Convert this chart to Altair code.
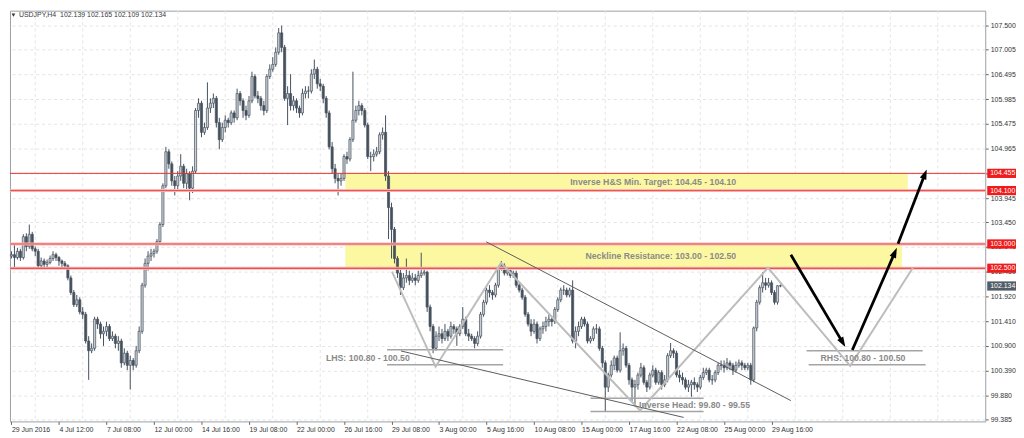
import math
import altair as alt
import pandas as pd

# ---------------- data ----------------
x_labels = ["29 Jun 2016", "4 Jul 12:00", "7 Jul 08:00", "12 Jul 00:00", "14 Jul 16:00",
            "19 Jul 08:00", "22 Jul 00:00", "26 Jul 16:00", "29 Jul 08:00", "3 Aug 00:00",
            "5 Aug 16:00", "10 Aug 08:00", "15 Aug 00:00", "17 Aug 16:00", "22 Aug 08:00",
            "25 Aug 00:00", "29 Aug 16:00"]
x_label_bars = [0, 16, 32, 48, 64, 80, 96, 112, 128, 144, 160, 176, 192, 208, 224, 240, 256]
vgrid_bars = [8, 24, 40, 56, 72, 88, 104, 120, 136, 152, 168, 184, 200, 216, 232, 248, 264,
              280, 296, 312]
price_ticks = [107.5, 107.005, 106.495, 105.985, 105.475, 104.965, 104.455, 103.945, 103.45,
               102.94, 102.43, 101.92, 101.41, 100.9, 100.39, 99.88, 99.385]

first_open = 102.75
closes = [
    102.78, 102.72, 102.85, 102.72, 103.15, 102.95, 103.20, 102.90, 102.85, 102.55,
    102.65, 102.58, 102.62, 102.70, 102.78, 102.72, 102.65, 102.60, 102.55, 102.30,
    102.00, 101.75, 101.85, 101.60, 101.55, 101.00, 100.80, 100.85, 101.45, 101.35,
    101.15, 101.20, 101.30, 101.05, 101.10, 100.95, 101.00, 100.55, 100.75, 100.50,
    100.60, 100.50, 100.80, 101.20, 102.15, 102.60, 102.75, 102.80, 102.85, 103.05,
    103.40, 104.20, 104.90, 104.65, 104.30, 104.20, 104.40, 104.60, 104.25, 104.45,
    104.15, 104.50, 105.75, 105.90, 105.30, 105.40, 105.80, 105.90, 106.00, 105.50,
    105.15, 105.40, 105.55, 105.50, 105.70, 105.60, 106.10, 105.95, 105.75, 105.65,
    105.95, 106.45, 106.05, 106.00, 105.85, 105.75, 106.45, 106.60, 106.70, 106.95,
    107.35, 107.05, 106.00, 106.10, 105.85, 105.95, 105.80, 105.70, 106.10, 106.15,
    106.15, 106.50, 106.60, 106.30, 106.25, 106.00, 105.70, 105.00, 104.55, 104.35,
    104.30, 104.35, 104.80, 104.75, 105.15, 105.55, 105.75, 105.85, 105.75, 105.45,
    104.80, 104.80, 104.85, 104.90, 105.25, 105.30, 104.40, 103.75, 103.30, 102.70,
    102.40, 102.10, 102.30, 102.35, 102.25, 102.30, 102.25, 102.35, 102.40, 102.42,
    101.70, 101.30, 100.85, 101.10, 101.15, 101.05, 101.20, 101.10, 101.30, 101.25,
    101.15, 101.30, 101.45, 101.15, 101.10, 101.05, 100.95, 101.10, 101.55, 101.80,
    102.05, 102.00, 101.95, 102.15, 102.50, 102.55, 102.40, 102.45, 102.35, 102.40,
    102.15, 102.05, 101.90, 101.55, 101.35, 101.20, 101.35, 101.05, 101.25, 101.30,
    101.40, 101.45, 101.40, 101.65, 101.85, 102.05, 102.05, 101.95, 102.05, 101.00,
    101.20, 101.30, 101.45, 101.35, 101.00, 101.05, 101.25, 101.25, 100.85, 100.55,
    100.05, 100.30, 100.50, 100.65, 100.40, 100.80, 100.85, 100.50, 100.20, 100.05,
    100.10, 100.30, 100.45, 100.15, 100.05, 100.30, 100.40, 100.15, 100.35, 100.10,
    100.20, 100.70, 100.80, 100.75, 100.30, 100.25, 100.20, 100.05, 100.10, 100.15,
    100.10, 100.05, 100.25, 100.35, 100.40, 100.20, 100.20, 100.35, 100.50, 100.50,
    100.45, 100.55, 100.50, 100.40, 100.50, 100.55, 100.50, 100.45, 100.50, 100.20,
    101.27, 101.80, 102.10, 102.20, 102.15, 102.20, 102.00, 101.80, 102.139, 102.134,
]
highs = [
    102.85, 103.00, 102.92, 102.90, 103.20, 103.22, 103.40, 103.25, 102.95, 102.90,
    102.72, 102.70, 102.68, 102.76, 102.85, 102.82, 102.75, 102.68, 102.65, 102.58,
    102.35, 102.05, 101.95, 101.90, 101.70, 101.60, 101.10, 100.95, 101.50, 101.50,
    101.40, 101.30, 101.40, 101.35, 101.20, 101.15, 101.10, 101.05, 100.85, 100.80,
    100.70, 100.65, 100.90, 101.30, 102.20, 102.70, 102.85, 102.90, 102.90, 103.10,
    103.45, 104.25, 105.00, 104.95, 104.70, 104.40, 104.50, 104.85, 104.65, 104.55,
    104.50, 104.60, 105.80, 106.00, 105.95, 105.50, 106.33, 106.00, 106.10, 106.05,
    105.60, 105.50, 105.65, 105.60, 105.75, 105.75, 106.20, 106.15, 106.00, 105.85,
    106.05, 106.55, 106.50, 106.15, 106.05, 105.95, 106.50, 106.70, 106.85, 107.05,
    107.45, 107.50, 107.10, 106.25, 106.50, 106.05, 106.00, 105.85, 106.20, 106.25,
    106.25, 106.60, 106.80, 106.65, 106.40, 106.30, 106.05, 105.75, 105.10, 104.65,
    104.45, 104.45, 104.85, 104.90, 105.20, 106.55, 105.85, 105.95, 105.90, 105.80,
    105.50, 104.90, 104.95, 105.00, 105.30, 105.40, 105.65, 104.50, 103.85, 103.35,
    102.75, 102.50, 102.40, 102.70, 102.45, 102.40, 102.38, 102.45, 102.82, 102.50,
    102.45, 101.75, 101.35, 101.20, 101.30, 101.25, 101.35, 101.25, 101.40, 101.35,
    101.30, 101.35, 101.70, 101.50, 101.25, 101.15, 101.10, 101.20, 101.60, 101.85,
    102.10, 102.15, 102.05, 102.20, 102.55, 102.65, 102.60, 102.50, 102.50, 102.45,
    102.45, 102.20, 102.10, 101.95, 101.60, 101.45, 101.45, 101.40, 101.30, 101.40,
    101.50, 101.55, 101.50, 101.70, 101.90, 102.10, 102.15, 102.10, 102.10, 102.25,
    101.30, 101.40, 101.50, 101.50, 101.40, 101.10, 101.30, 101.35, 101.30, 100.90,
    100.60, 100.35, 100.60, 100.70, 100.70, 101.18, 100.95, 100.90, 100.55, 100.25,
    100.20, 100.35, 100.55, 100.50, 100.20, 100.35, 100.50, 100.45, 100.40, 100.40,
    100.30, 100.75, 100.96, 100.85, 100.80, 100.40, 100.35, 100.25, 100.20, 100.20,
    100.25, 100.15, 100.30, 100.45, 100.45, 100.45, 100.30, 100.40, 100.55, 100.60,
    100.60, 100.65, 100.60, 100.55, 100.58, 100.62, 100.60, 100.55, 100.55, 100.55,
    101.30, 101.85, 102.15, 102.42, 102.30, 102.30, 102.25, 102.05, 102.15, 102.165,
]
lows = [
    102.70, 102.50, 102.68, 102.65, 102.68, 102.85, 102.90, 102.85, 102.75, 102.50,
    102.50, 102.52, 102.50, 102.58, 102.65, 102.65, 102.55, 102.52, 102.48, 102.25,
    101.95, 101.70, 101.70, 101.55, 101.45, 100.95, 100.20, 100.75, 100.80, 101.25,
    101.05, 100.90, 101.10, 101.00, 101.00, 100.85, 100.80, 100.45, 100.50, 100.40,
    100.00, 100.40, 100.45, 100.75, 101.15, 102.10, 102.45, 102.65, 102.72, 102.80,
    103.00, 103.35, 104.15, 104.55, 104.20, 104.00, 104.10, 104.30, 104.15, 104.10,
    103.90, 104.05, 104.45, 105.60, 105.20, 105.25, 105.35, 105.70, 105.80, 105.40,
    104.95, 105.10, 105.30, 105.40, 105.45, 105.50, 105.55, 105.85, 105.60, 105.55,
    105.60, 105.90, 106.00, 105.90, 105.75, 105.65, 105.70, 106.40, 106.55, 106.65,
    106.90, 106.95, 105.95, 105.45, 105.75, 105.75, 105.70, 105.60, 105.65, 106.00,
    106.00, 106.10, 106.40, 106.20, 106.15, 105.90, 105.60, 104.95, 104.45, 104.25,
    104.00, 104.20, 104.30, 104.65, 104.70, 105.10, 105.50, 105.65, 105.65, 105.40,
    104.75, 104.50, 104.70, 104.80, 104.85, 105.15, 104.30, 103.10, 102.70, 102.60,
    102.30, 101.95, 102.05, 102.20, 102.15, 102.20, 102.15, 102.20, 102.30, 102.35,
    101.60, 101.20, 100.75, 100.80, 101.00, 100.95, 101.00, 101.00, 101.05, 101.15,
    100.90, 101.10, 101.25, 101.10, 101.00, 101.00, 100.85, 100.90, 101.05, 101.50,
    101.75, 101.90, 101.85, 101.90, 102.10, 102.45, 102.35, 102.35, 102.30, 102.30,
    102.10, 102.00, 101.85, 101.50, 101.30, 101.10, 101.15, 100.95, 101.00, 101.15,
    101.20, 101.30, 101.30, 101.35, 101.60, 101.80, 101.95, 101.90, 101.90, 100.95,
    100.85, 101.10, 101.25, 101.30, 100.95, 100.95, 101.00, 101.15, 100.80, 100.45,
    99.55, 99.95, 100.25, 100.40, 100.35, 100.35, 100.70, 100.45, 100.10, 99.75,
    99.65, 100.00, 100.25, 100.10, 99.95, 100.00, 100.25, 100.10, 100.10, 100.00,
    100.05, 100.15, 100.65, 100.65, 100.25, 100.15, 100.10, 100.00, 99.95, 99.85,
    100.00, 99.95, 100.00, 100.20, 100.30, 100.15, 100.10, 100.15, 100.30, 100.40,
    100.35, 100.40, 100.40, 100.30, 100.35, 100.45, 100.40, 100.40, 100.40, 100.10,
    100.15, 101.20, 101.75, 102.00, 102.05, 102.10, 101.95, 101.75, 101.75, 102.109,
]

# horizontal levels (MT4 horizontal lines)
level_prices = [104.455, 104.10, 103.00, 102.50]
level_colors = ["#e8302c", "#ee4a48", "#ee4a48", "#e8302c"]
halo_prices = [104.10, 103.00, 102.50]

# zones (yellow rectangles)
zone_x0 = [112.44, 112.44]
zone_x1 = [301.9, 299.9]
zone_top = [104.455, 103.00]
zone_bot = [104.10, 102.50]
zone_texts = ["Inverse H&S Min. Target: 104.45 - 104.10", "Neckline Resistance: 103.00 - 102.50"]
zone_text_x = [244.1, 244.1]
zone_text_y = [104.2775, 102.75]

# neckline gray guide
neck_x0, neck_x1, neck_y = [120.46], [303.6], [102.50]

# inverse head & shoulders outline
v_x = [128.15, 142.85, 164.9, 211.7, 254.8, 282.5, 303.6]
v_y = [102.43, 100.47, 102.61, 99.57, 102.51, 100.49, 102.51]

# shoulder / head range lines
seg_x0 = [126.5, 126.5, 195.0, 195.0, 267.8, 268.5]
seg_x1 = [165.6, 165.6, 233.1, 233.1, 306.9, 307.9]
seg_y = [100.82, 100.51, 99.82, 99.55, 100.80, 100.51]
pat_texts = ["LHS: 100.80 - 100.50", "Inverse Head: 99.80 - 99.55", "RHS: 100.80 - 100.50"]
pat_x = [134.15, 211.35, 272.5]
pat_y = [100.652, 99.691, 100.652]
pat_align = ["right", "left", "left"]

# wedge trendlines
tl_x0 = [159.9, 131.2]
tl_y0 = [103.044, 100.795]
tl_x1 = [262.5, 226.4]
tl_y1 = [99.773, 99.426]

# projected path arrows
ar_x0 = [262.5, 283.2, 298.6]
ar_y0 = [102.778, 100.816, 103.003]
ar_x1 = [280.85, 298.2, 308.25]
ar_y1 = [100.877, 102.921, 104.536]

# right-side price tags
tag_y = [104.455, 104.10, 103.00, 102.50, 102.134]
tag_text = ["104.455", "104.100", "103.000", "102.500", "102.134"]
tag_fill = ["#f01c1c", "#f01c1c", "#f01c1c", "#f01c1c", "#535d67"]

header_parts = ["USDJPY,H4", "102.139", "102.165", "102.109", "102.134"]

# ---------------- layout ----------------
W, H = 983, 414
X_DOM = [-0.501, 327.97]
Y_DOM = [99.344, 107.807]
KX = W / (X_DOM[1] - X_DOM[0])
KY = H / (Y_DOM[1] - Y_DOM[0])
FONT = "Liberation Sans"

xs = alt.Scale(domain=X_DOM, nice=False, zero=False)
ys = alt.Scale(domain=Y_DOM, nice=False, zero=False)

label_js = "[" + ",".join("'" + s + "'" for s in x_labels) + "]"
x_axis = alt.Axis(values=x_label_bars, labelExpr=label_js + "[round(datum.value/16)]",
                  grid=False, domain=False, ticks=True, tickSize=3, tickColor="#666",
                  labelAlign="left", labelBaseline="top", labelPadding=1, labelFont=FONT,
                  labelFontSize=7, labelColor="#333", labelOverlap=False, labelFlush=False,
                  labelBound=False, title=None)
y_axis = alt.Axis(orient="right", values=price_ticks, format=".3f", grid=True,
                  gridColor="#e4e4e4", gridDash=[3, 3], gridWidth=1, domain=False,
                  ticks=True, tickSize=3, tickColor="#666", labelPadding=2, labelFont=FONT,
                  labelFontSize=7, labelColor="#333", labelOverlap=False, labelBound=False,
                  labelBaseline="middle", title=None)


def X(f):
    return alt.X(f, type="quantitative", scale=xs, axis=x_axis)


def Y(f):
    return alt.Y(f, type="quantitative", scale=ys, axis=y_axis)


n = min(len(closes), len(highs), len(lows))
opens = [first_open] + closes[:-1]
df = pd.DataFrame({"i": list(range(n)), "open": opens[:n], "close": closes[:n],
                   "high": highs[:n], "low": lows[:n]})
df["high"] = df[["high", "open", "close"]].max(axis=1)
df["low"] = df[["low", "open", "close"]].min(axis=1)

vgrid = alt.Chart(pd.DataFrame({"g": vgrid_bars})).mark_rule(
    color="#e4e4e4", strokeDash=[3, 3], strokeWidth=1
).encode(x=X("g"))

zones = alt.Chart(pd.DataFrame({"x0": zone_x0, "x1": zone_x1, "yt": zone_top, "yb": zone_bot})
                  ).mark_rect(color="#fcf8a2").encode(x=X("x0"), x2="x1", y=Y("yt"), y2="yb")

wicks = alt.Chart(df).mark_rule(color="#46515d", strokeWidth=1).encode(
    x=X("i"), y=Y("low"), y2="high:Q")

bodies = alt.Chart(df).transform_calculate(
    xa="datum.i - 0.36", xb="datum.i + 0.36"
).mark_rect(stroke="#46515d", strokeWidth=0.7).encode(
    x=X("xa"), x2="xb", y=Y("open"), y2="close",
    color=alt.condition("datum.close >= datum.open", alt.value("#c9ced4"), alt.value("#46515d")))

neck = alt.Chart(pd.DataFrame({"x0": neck_x0, "x1": neck_x1, "y": neck_y})).mark_rule(
    color="#c6c6c6", strokeWidth=2.5).encode(x=X("x0"), x2="x1", y=Y("y"))

halo = alt.Chart(pd.DataFrame({"y": halo_prices})).mark_rule(
    color="#f7b9b9", strokeWidth=3).encode(y=Y("y"))
levels = alt.Chart(pd.DataFrame({"y": level_prices, "c": level_colors})).mark_rule(
    strokeWidth=1).encode(y=Y("y"), color=alt.Color("c:N", scale=None))

segs = alt.Chart(pd.DataFrame({"x0": seg_x0, "x1": seg_x1, "y": seg_y})).mark_rule(
    color="#a4a4a4", strokeWidth=1.5).encode(x=X("x0"), x2="x1", y=Y("y"))

vline = alt.Chart(pd.DataFrame({"x": v_x, "y": v_y, "o": list(range(len(v_x)))})).mark_line(
    color="#bdbdbd", strokeWidth=2).encode(x=X("x"), y=Y("y"), order="o:Q")

tlines = alt.Chart(pd.DataFrame({"x0": tl_x0, "y0": tl_y0, "x1": tl_x1, "y1": tl_y1})
                   ).mark_rule(color="#5c5c5c", strokeWidth=1).encode(
    x=X("x0"), y=Y("y0"), x2="x1", y2="y1")

# arrows: shorten shaft slightly, compute head rotation in pixel space
sx1, sy1, angs = [], [], []
for a, b, c, d in zip(ar_x0, ar_y0, ar_x1, ar_y1):
    dx = (c - a) * KX
    dy = -(d - b) * KY
    L = math.hypot(dx, dy)
    ux, uy = dx / L, dy / L
    sx1.append(c - 6 * ux / KX)
    sy1.append(d + 6 * uy / KY)
    angs.append(math.degrees(math.atan2(dx, -dy)) % 360)

shafts = alt.Chart(pd.DataFrame({"x0": ar_x0, "y0": ar_y0, "x1": sx1, "y1": sy1})).mark_rule(
    color="#000000", strokeWidth=2.8).encode(x=X("x0"), y=Y("y0"), x2="x1", y2="y1")
heads = alt.Chart(pd.DataFrame({"x": ar_x1, "y": ar_y1, "a": angs})).mark_point(
    shape="M0,0L0.55,1.6L-0.55,1.6Z", filled=True, color="#000000", opacity=1, size=160,
    strokeWidth=0).encode(x=X("x"), y=Y("y"), angle=alt.Angle("a:Q", scale=None))

ztext = alt.Chart(pd.DataFrame({"x": zone_text_x, "y": zone_text_y, "t": zone_texts})).mark_text(
    align="right", baseline="middle", font=FONT, fontSize=8.8, fontWeight="bold",
    color="#8a8a8a").encode(x=X("x"), y=Y("y"), text="t:N")

ptext_layers = []
for t, x, y, al in zip(pat_texts, pat_x, pat_y, pat_align):
    ptext_layers.append(
        alt.Chart(pd.DataFrame({"x": [x], "y": [y], "t": [t]})).mark_text(
            align=al, baseline="middle", font=FONT, fontSize=8.8, fontWeight="bold",
            color="#8a8a8a").encode(x=X("x"), y=Y("y"), text="t:N"))

header = "\u00a0\u00a0".join([header_parts[0], " ".join(header_parts[1:])])
htri = alt.Chart(pd.DataFrame({"k": [0]})).mark_point(
    shape="triangle-down", filled=True, size=14, color="#333333", opacity=1
).encode(x=alt.value(3.5), y=alt.value(4.5))
htext = alt.Chart(pd.DataFrame({"t": [header]})).mark_text(
    align="left", baseline="middle", font=FONT, fontSize=7, color="#3a3a3a"
).encode(x=alt.value(9), y=alt.value(4.5), text="t:N")

tags_df = pd.DataFrame({"y": tag_y, "t": tag_text, "f": tag_fill})
tag_boxes = alt.Chart(tags_df).transform_calculate(
    ya="datum.y - 0.095", yb="datum.y + 0.095"
).mark_rect().encode(x=alt.value(985), x2=alt.value(1014), y=Y("ya"), y2="yb",
                     color=alt.Color("f:N", scale=None))
tag_texts = alt.Chart(tags_df).mark_text(
    align="left", baseline="middle", font=FONT, fontSize=7, color="#ffffff"
).encode(x=alt.value(988), y=Y("y"), text="t:N")

chart = alt.layer(
    vgrid, zones, wicks, bodies, neck, halo, levels, segs, vline, tlines, shafts, heads,
    ztext, *ptext_layers, htri, htext, tag_boxes, tag_texts
).properties(
    width=W, height=H, padding={"left": 0, "top": 0, "right": 0, "bottom": 0},
    background="#ffffff"
).configure_view(stroke="#9aa0a6", strokeWidth=1)

chart.save("out.html", embed_options={"renderer": "svg", "actions": False})
